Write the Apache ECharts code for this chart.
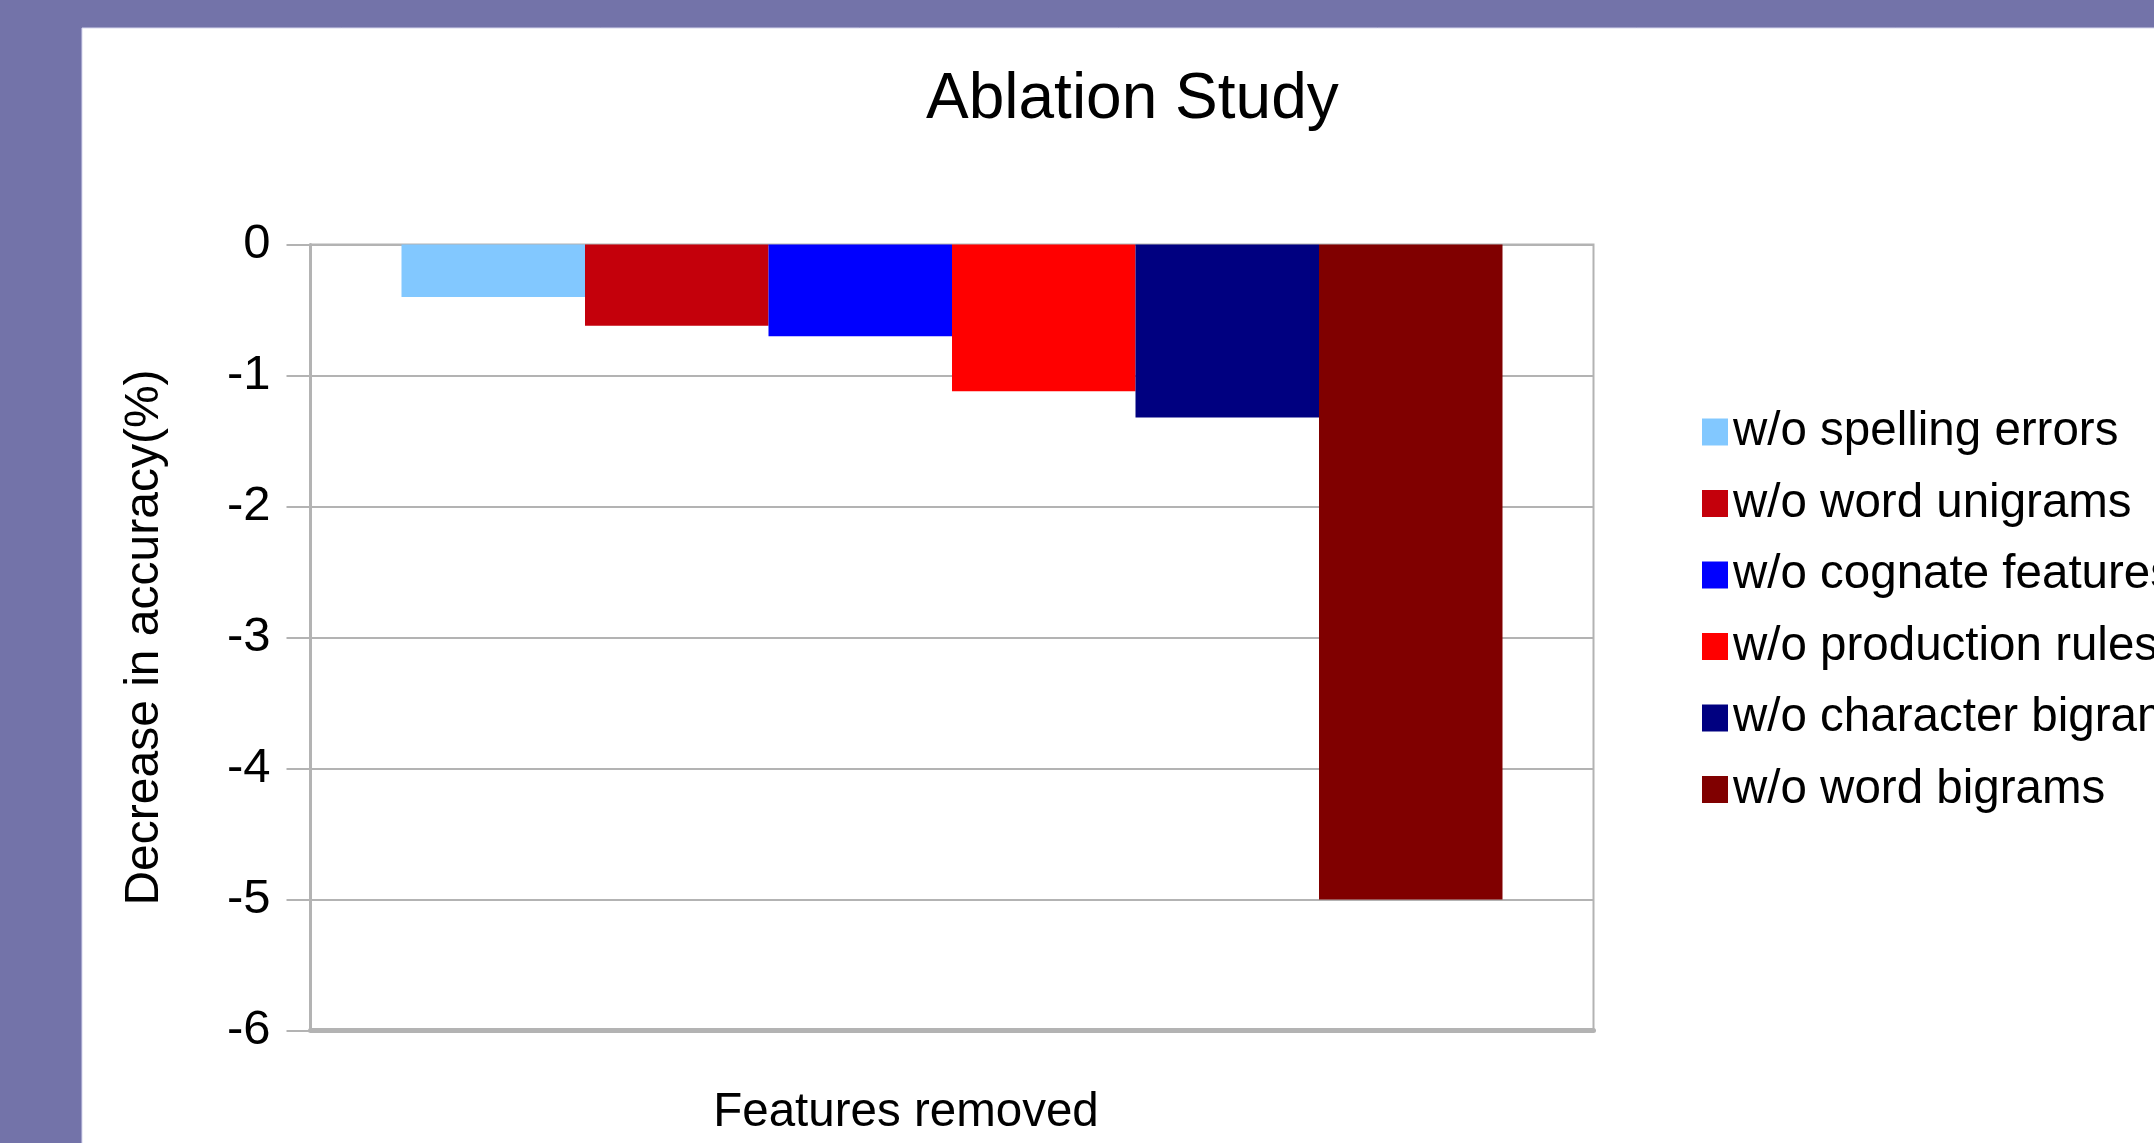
<!DOCTYPE html>
<html>
<head>
<meta charset="utf-8">
<script src="https://cdn.jsdelivr.net/npm/echarts@6/dist/echarts.min.js"></script>
<style>
html,body{margin:0;padding:0;background:#7373a9;}
#chart{width:2154px;height:1143px;}
</style>
</head>
<body>
<div id="chart"></div>
<script>
const categories = [''];
const seriesNames = ['w/o spelling errors','w/o word unigrams','w/o cognate features','w/o production rules','w/o character bigrams','w/o word bigrams'];
const seriesValues = [-0.40, -0.62, -0.70, -1.12, -1.32, -5.00];
const seriesColors = ['#82c8ff','#c4000b','#0000ff','#ff0000','#000080','#800000'];
const yTicks = { min: -6, max: 0, interval: 1 };

const FONT = '"Liberation Sans", Arial, sans-serif';
const chart = echarts.init(document.getElementById('chart'), null, {renderer:'canvas'});
chart.setOption({
  backgroundColor: '#7373a9',
  animation: false,
  graphic: [{
    type: 'rect', z: -10, silent: true,
    shape: { x: 82, y: 28, width: 2100, height: 1200 },
    style: { fill: '#ffffff', stroke: '#d8d8ee', lineWidth: 1 }
  }],
  title: {
    text: 'Ablation Study',
    left: 921, top: 63,
    textStyle: { fontFamily: FONT, fontSize: 64, fontWeight: 'normal', color: '#000' }
  },
  legend: {
    orient: 'vertical',
    left: 1697, top: 403,
    itemWidth: 26, itemHeight: 27, itemGap: 23.5,
    icon: 'rect',
    textStyle: { fontFamily: FONT, fontSize: 47.5, lineHeight: 46, color: '#000' },
    data: seriesNames
  },
  grid: {
    left: 310.5, top: 244.5, width: 1283, height: 786,
    outerBoundsMode: 'none',
    containLabel: false,
    show: true, borderColor: '#b3b3b3', borderWidth: 2, backgroundColor: 'transparent'
  },
  xAxis: {
    type: 'category',
    data: categories,
    name: 'Features removed',
    nameLocation: 'middle',
    nameGap: 58,
    nameTextStyle: { fontFamily: FONT, fontSize: 47.5, color: '#000', padding: [0, 92, 0, 0] },
    axisLine: { onZero: false, lineStyle: { color: '#b3b3b3', width: 5 } },
    axisTick: { show: false },
    axisLabel: { show: false }
  },
  yAxis: {
    type: 'value',
    min: yTicks.min, max: yTicks.max, interval: yTicks.interval,
    name: 'Decrease in accuracy(%)',
    nameLocation: 'middle',
    nameRotate: 90,
    nameGap: 142,
    nameTextStyle: { fontFamily: FONT, fontSize: 48, color: '#000' },
    axisLine: { show: true, lineStyle: { color: '#b3b3b3', width: 3 } },
    axisTick: { show: true, length: 24, lineStyle: { color: '#b3b3b3', width: 2 } },
    axisLabel: { fontFamily: FONT, fontSize: 49, color: '#000', margin: 40 },
    splitLine: { show: true, lineStyle: { color: '#b3b3b3', width: 2 } }
  },
  series: seriesNames.map((n, i) => ({
    name: n,
    type: 'bar',
    barWidth: 183.5,
    barGap: '0%',
    data: [seriesValues[i]],
    itemStyle: { color: seriesColors[i] }
  }))
});
</script>
</body>
</html>
